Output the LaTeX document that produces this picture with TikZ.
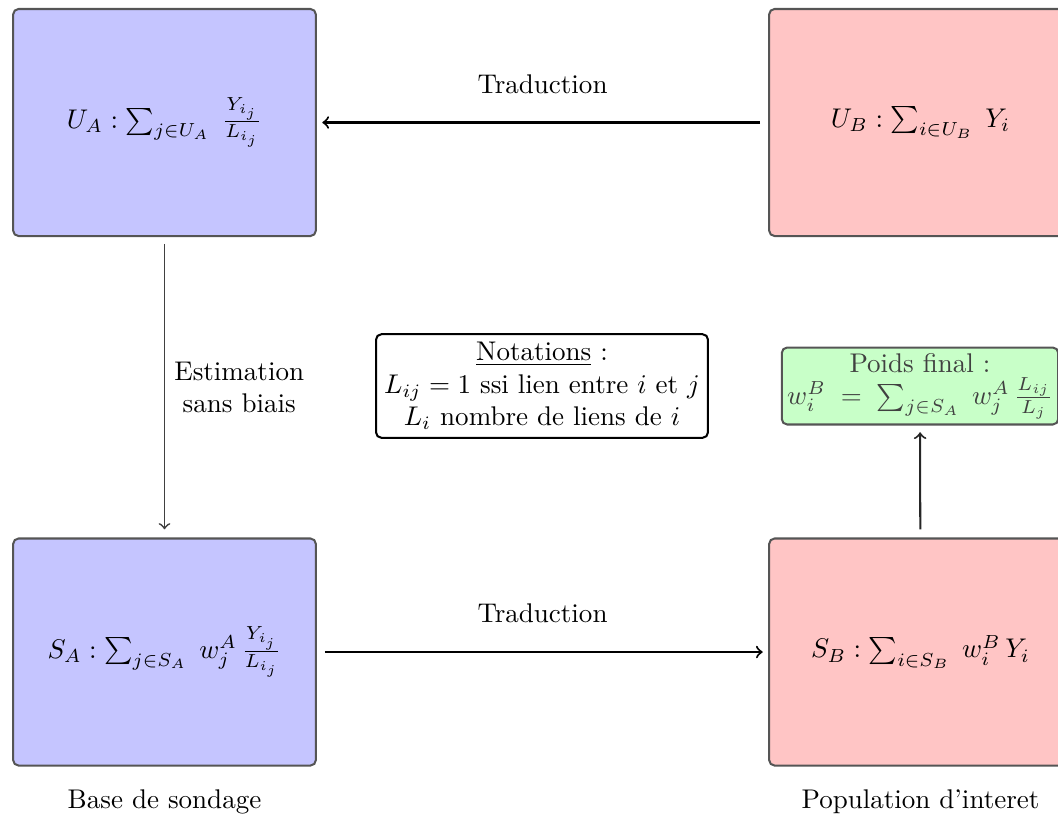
\documentclass[tikz,border=0pt]{standalone}
\usetikzlibrary{positioning}

\definecolor{bleuA}{RGB}{197,197,255}
\definecolor{rougeB}{RGB}{255,197,197}
\definecolor{vertP}{RGB}{200,255,200}
\definecolor{bord}{RGB}{85,85,85}

\begin{document}
\begin{tikzpicture}[x=0.37pt, y=-0.37pt, >=to, line width=0.75pt]

    \tikzset{
        cadre/.style={draw=bord, rounded corners=2pt, minimum width=112pt, minimum height=84pt},
        cadreA/.style={cadre, fill=bleuA},
        cadreB/.style={cadre, fill=rougeB},
        fleche/.style={->, shorten >=2pt, shorten <=3pt}
    }

    % 0. cadre de l'image
    \useasboundingbox (0,0) rectangle (1058,817);
    \clip (0,0) rectangle (1058,817);

    % 1. les quatre ensembles
    \node[cadreA] (UA) at (164.5,122.5) {$U_A : \sum_{j\in U_A}\;\frac{Y_{i_j}}{L_{i_j}}$};
    \node[cadreB] (UB) at (920.5,122.5) {$U_B : \sum_{i\in U_B}\;Y_i$};
    \node[cadreA] (SA) at (164.5,652) {$S_A : \sum_{j\in S_A}\;w_j^A\,\frac{Y_{i_j}}{L_{i_j}}$};
    \node[cadreB] (SB) at (920.5,652) {$S_B : \sum_{i\in S_B}\;w_i^B\,Y_i$};

    % 2. notations et poids final
    \node[draw=black, rounded corners=2pt, align=center, inner sep=3pt] (notes) at (542,386)
        {\underline{Notations} :\\ $L_{ij} = 1$ ssi lien entre $i$ et $j$\\ $L_i$ nombre de liens de $i$};
    \node[draw=bord, fill=vertP, rounded corners=2pt, align=center, inner sep=2pt, text=black!75] (poids) at (920,386)
        {Poids final :\\ $w_i^B\;=\;\sum_{j\in S_A}\;w_j^A\,\frac{L_{ij}}{L_j}$};

    % 3. les fleches
    \draw[fleche] (UB) -- node[above=7pt] {Traduction} (UA);
    \draw[fleche] (SA) -- node[above=7pt] {Traduction} (SB);
    \draw[fleche, draw=black!75, line width=0.65pt, shorten <=2.5pt, shorten >=3pt] (UA) -- node[right=0pt, align=center] {Estimation\\ sans biais} (SA);
    \draw[fleche, draw=black!85, shorten >=2.5pt] (SB) -- (poids);

    % 4. legendes du bas
    \node[below=5pt of SA] (base) {Base de sondage};
    \node[below=5pt of SB] (pop) {Population d'interet};

\end{tikzpicture}
\end{document}
